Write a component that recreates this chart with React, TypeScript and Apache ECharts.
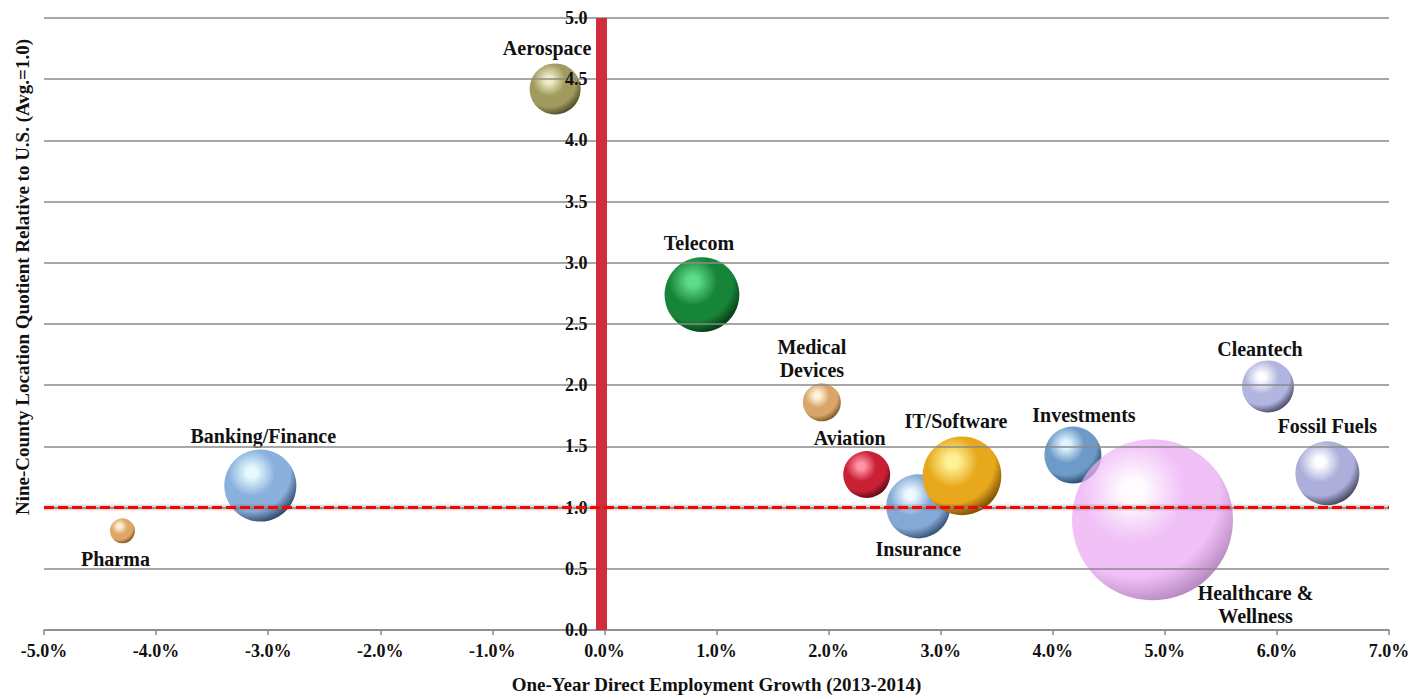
import React, { useEffect, useRef } from "react";
import * as echarts from "echarts";

// Industry clusters: employment growth (%), location quotient, relative cluster size
const categories = [
  "Aerospace",
  "Telecom",
  "Medical\nDevices",
  "Aviation",
  "Insurance",
  "IT/Software",
  "Investments",
  "Healthcare &\nWellness",
  "Cleantech",
  "Fossil Fuels",
  "Banking/Finance",
  "Pharma",
];
const growthPct = [-0.44, 0.87, 1.94, 2.34, 2.8, 3.19, 4.18, 4.89, 5.92, 6.45, -3.07, -4.3];
const locationQuotient = [4.42, 2.74, 1.86, 1.27, 1.01, 1.26, 1.43, 0.9, 1.99, 1.28, 1.18, 0.81];
const clusterSize = [26, 56, 14.4, 22, 41, 62, 32.5, 259, 27, 41, 52, 6.25];

const usAverage = 1.0;
const xTicks = { min: -5, max: 7, step: 1 };
const yTicks = { min: 0, max: 5, step: 0.5 };

const FONT = "'Liberation Serif', 'Times New Roman', serif";
const GRID = { left: 44, right: 26, top: 18, bottom: 66 };
const CHART_W = 1415;
const CHART_H = 699;

// sphere shading per cluster: [highlight, body, rim]
const sphereColors: Record<string, [string, string, string]> = {
  Aerospace: ["#f0ecc6", "#a09a5e", "#4a4522"],
  Telecom: ["#5fdc88", "#178538", "#043512"],
  "Medical\nDevices": ["#fff3dc", "#d9a66a", "#785022"],
  Aviation: ["#ff95a4", "#c92036", "#560914"],
  Insurance: ["#eef8ff", "#84a9d6", "#304c72"],
  "IT/Software": ["#fff296", "#e8a81c", "#744800"],
  Investments: ["#e0f5ff", "#6d9ac7", "#223f63"],
  "Healthcare &\nWellness": ["rgba(255,250,255,0.8)", "rgba(234,168,244,0.72)", "rgba(160,104,172,0.8)"],
  Cleantech: ["#ffffff", "#b2b5e0", "#44455f"],
  "Fossil Fuels": ["#ffffff", "#acafda", "#3e3f58"],
  "Banking/Finance": ["#e6faff", "#8ab0de", "#294262"],
  Pharma: ["#fff1d8", "#dfa666", "#764d1e"],
};

// label placement relative to the bubble centre
const labelOffset: Record<string, [number, number]> = {
  Aerospace: [-8, -41],
  Telecom: [-3, -52],
  "Medical\nDevices": [-10, -44],
  Aviation: [-17, -37],
  Insurance: [0, 43],
  "IT/Software": [-6, -55],
  Investments: [11, -40],
  "Healthcare &\nWellness": [103, 85],
  Cleantech: [-8, -37],
  "Fossil Fuels": [0, -47],
  "Banking/Finance": [3, -50],
  Pharma: [-7, 28],
};

function sphere(name: string) {
  const [hi, body, rim] = sphereColors[name];
  return new echarts.graphic.RadialGradient(0.38, 0.32, 0.72, [
    { offset: 0, color: hi },
    { offset: 0.1, color: hi },
    { offset: 0.45, color: body },
    { offset: 0.74, color: body },
    { offset: 1, color: rim },
  ]);
}

export default function App() {
  const ref = useRef<HTMLDivElement>(null);

  useEffect(() => {
    if (!ref.current) return;
    const chart = echarts.init(ref.current, null, { renderer: "svg" });

    // the vertical axis sits on the 0% growth line
    const plotW = CHART_W - GRID.left - GRID.right;
    const zeroShift = ((0 - xTicks.min) / (xTicks.max - xTicks.min)) * plotW - 3;

    const points = categories.map((name, i) => ({
      name,
      value: [growthPct[i], locationQuotient[i], clusterSize[i]],
      itemStyle: { color: sphere(name), opacity: 1 },
      label: { offset: labelOffset[name] },
    }));

    const refLine = [
      [xTicks.min, usAverage],
      [xTicks.max, usAverage],
    ];

    chart.setOption({
      animation: false,
      backgroundColor: "#ffffff",
      textStyle: { fontFamily: FONT },
      grid: { ...GRID, containLabel: false },
      xAxis: {
        type: "value",
        min: xTicks.min,
        max: xTicks.max,
        interval: xTicks.step,
        name: "One-Year Direct Employment Growth (2013-2014)",
        nameLocation: "middle",
        nameGap: 45,
        nameTextStyle: { fontFamily: FONT, fontWeight: "bold", fontSize: 19, color: "#111" },
        axisLine: { onZero: false, lineStyle: { color: "#8a8a8a", width: 1.5 } },
        axisTick: { show: true, length: 5, lineStyle: { color: "#8a8a8a", width: 1.5 } },
        axisLabel: {
          margin: 12,
          fontFamily: FONT,
          fontWeight: "bold",
          fontSize: 18,
          color: "#111",
          formatter: (v: number) => v.toFixed(1) + "%",
        },
        splitLine: { show: false },
      },
      yAxis: {
        type: "value",
        position: "left",
        offset: -zeroShift,
        min: yTicks.min,
        max: yTicks.max,
        interval: yTicks.step,
        z: 5,
        axisLine: { onZero: false, lineStyle: { color: "#d22d3f", width: 11, cap: "butt" } },
        axisTick: { show: false },
        axisLabel: {
          margin: 14,
          fontFamily: FONT,
          fontWeight: "bold",
          fontSize: 18,
          color: "#111",
          formatter: (v: number) => v.toFixed(1),
        },
        splitLine: { show: true, lineStyle: { color: "#8a8a8a", width: 1.5 } },
      },
      graphic: [
        {
          type: "text",
          x: 22,
          y: 277,
          rotation: Math.PI / 2,
          style: {
            text: "Nine-County Location Quotient Relative to U.S. (Avg.=1.0)",
            fontFamily: FONT,
            fontWeight: "bold",
            fontSize: 19,
            fill: "#111",
            textAlign: "center",
            textVerticalAlign: "middle",
          },
        },
      ],
      series: [
        {
          type: "scatter",
          z: 3,
          symbol: "circle",
          symbolSize: (val: number[]) => Math.sqrt(val[2]) * 10,
          itemStyle: { opacity: 1 },
          data: points,
          label: {
            show: true,
            position: "inside",
            formatter: (p: any) => p.name,
            fontFamily: FONT,
            fontWeight: "bold",
            fontSize: 20,
            lineHeight: 23,
            color: "#111",
            align: "center",
          },
          emphasis: { disabled: true },
        },
        {
          // soft halo under the U.S. average line
          type: "line",
          z: 7,
          symbol: "none",
          silent: true,
          data: refLine,
          lineStyle: { color: "rgba(120,60,60,0.18)", width: 6 },
        },
        {
          // U.S. average reference line
          type: "line",
          z: 8,
          symbol: "none",
          silent: true,
          data: refLine,
          lineStyle: { color: "#ff0000", width: 3, type: [10, 4] },
        },
      ],
    });

    return () => chart.dispose();
  }, []);

  return (
    <div
      ref={ref}
      style={{ position: "fixed", left: 0, top: 0, width: CHART_W, height: CHART_H, background: "#fff" }}
    />
  );
}
